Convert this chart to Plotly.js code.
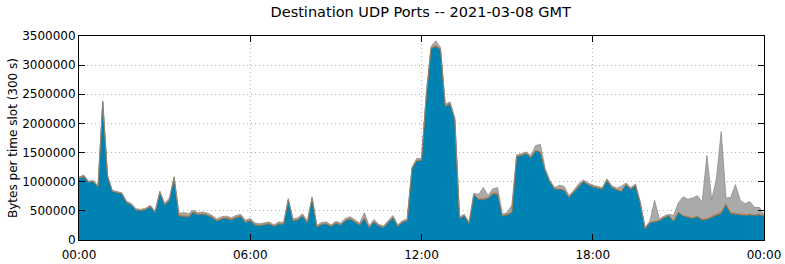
<!DOCTYPE html>
<html>
<head>
<meta charset="utf-8">
<script src="https://cdn.plot.ly/plotly-3.0.1.min.js"></script>
<style>html,body{margin:0;padding:0;background:#fff;}#chart{width:785px;height:264px;}</style>
</head>
<body>
<div id="chart"></div>
<script>
// Time slots: 10-minute steps over the day, in hours (0 .. 24)
var slotMinutes = 10;
var tickHours = [0, 6, 12, 18, 24];
var tickLabels = ["00:00", "06:00", "12:00", "18:00", "00:00"];

// Main port traffic (bytes per slot, thousands)
var mainPort = [
1050,1090,990,1000,910,2360,1090,830,810,790,
640,600,510,500,520,570,470,810,600,680,
1060,410,400,390,470,430,440,420,380,320,
360,370,340,380,400,300,330,255,245,265,
275,230,275,265,680,325,345,410,290,710,
220,265,275,230,285,255,330,360,300,255,
370,210,310,240,210,300,380,230,300,330,
1220,1360,1360,2460,3280,3320,3260,2290,2330,2060,
370,410,280,770,690,690,710,790,780,410,
430,470,1430,1450,1480,1410,1530,1500,1190,990,
870,870,850,730,820,910,1000,950,910,890,
870,1020,900,860,830,950,870,930,620,190,
290,310,330,380,410,320,470,410,390,370,
400,340,350,390,420,450,600,450,440,430,
420,430,420,430,410
];
// Second port (thin layer, thousands)
var secondPort = [
10,10,10,10,10,10,10,10,10,10,
10,10,10,10,10,10,10,10,10,10,
10,20,20,20,15,15,15,15,15,15,
15,15,15,15,15,15,15,10,10,10,
10,10,10,10,10,10,10,10,10,10,
10,10,10,10,10,10,10,10,10,10,
10,10,10,10,10,10,10,10,10,10,
10,10,10,10,15,20,15,15,15,15,
10,10,10,10,20,20,20,20,20,10,
10,10,10,10,10,10,10,10,10,10,
10,10,10,10,10,10,10,10,10,10,
10,10,10,10,10,10,10,10,10,10,
10,10,10,10,10,10,10,10,10,10,
10,15,15,20,25,30,25,20,15,15,
15,15,15,15,15
];
// Other ports (thousands)
var otherPorts = [
20,15,10,10,10,20,10,10,10,10,
15,15,15,15,15,15,15,20,20,30,
20,30,50,40,25,25,25,25,25,25,
25,25,25,25,25,25,25,25,25,25,
25,20,25,25,20,25,25,30,20,20,
20,25,25,20,25,25,30,30,30,25,
90,20,30,20,20,30,30,20,20,20,
20,30,30,30,25,80,25,25,25,25,
20,20,20,20,70,190,30,70,100,20,
30,120,20,20,20,30,80,130,20,20,
20,60,60,20,20,40,20,20,20,20,
20,20,20,20,80,20,20,20,20,20,
20,360,20,20,20,90,160,320,300,340,
350,295,1085,280,605,1380,95,260,495,235,
185,215,125,115,15
];

var hours = mainPort.map(function (_, i) { return i * slotMinutes / 60; });
function toBytes(arr) { return arr.map(function (v) { return v * 1000; }); }

var traces = [
  {x: hours, y: toBytes(mainPort), name: "main", type: "scatter", mode: "lines",
   stackgroup: "one", fillcolor: "#0083b3", line: {color: "#3c7288", width: 0.8}},
  {x: hours, y: toBytes(secondPort), name: "second", type: "scatter", mode: "lines",
   stackgroup: "one", fillcolor: "#d8742a", line: {color: "#b8701e", width: 0.7}},
  {x: hours, y: toBytes(otherPorts), name: "other", type: "scatter", mode: "lines",
   stackgroup: "one", fillcolor: "#aaaaaa", line: {color: "#8c8c8c", width: 0.8}}
];

var font = "DejaVu Sans, sans-serif";
var layout = {
  width: 785, height: 264,
  margin: {l: 79, r: 21, t: 36, b: 24},
  paper_bgcolor: "#ffffff", plot_bgcolor: "#ffffff",
  showlegend: false,
  font: {family: font, size: 12, color: "#000"},
  title: {text: "Destination UDP Ports -- 2021-03-08 GMT", x: 0.536, xanchor: "center",
          y: 0.955, yanchor: "middle", font: {family: font, size: 14.5, color: "#000"}},
  xaxis: {
    range: [0, 24], tickvals: tickHours, ticktext: tickLabels,
    ticks: "inside", ticklen: 6, tickcolor: "#000", tickwidth: 1,
    showline: true, linecolor: "#000", linewidth: 1, mirror: "ticks",
    showgrid: true, gridcolor: "#b4b4b4", griddash: "1px,3px", gridwidth: 1,
    zeroline: false, tickfont: {family: font, size: 12}, ticklabelstandoff: 4
  },
  yaxis: {
    range: [0, 3500000], dtick: 500000, tick0: 0, tickformat: "d",
    ticks: "inside", ticklen: 6, tickcolor: "#000", tickwidth: 1,
    showline: true, linecolor: "#000", linewidth: 1, mirror: "ticks",
    showgrid: true, gridcolor: "#b4b4b4", griddash: "1px,3px", gridwidth: 1,
    zeroline: false, tickfont: {family: font, size: 12},
    title: {text: "Bytes per time slot (300 s)", font: {family: font, size: 12}, standoff: 1}
  }
};

Plotly.newPlot("chart", traces, layout, {staticPlot: true, displayModeBar: false});
</script>
</body>
</html>
